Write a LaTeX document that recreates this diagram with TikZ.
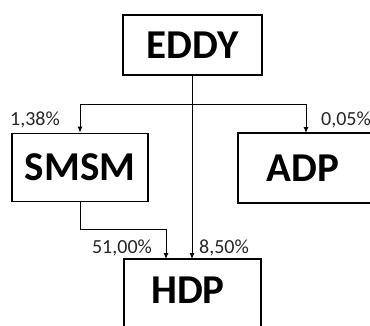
\documentclass[tikz,border=0pt]{standalone}
\usepackage{fontspec}
\setmainfont{Carlito}
\usetikzlibrary{arrows.meta}
\begin{document}
\begin{tikzpicture}[x=1pt,y=-1pt,
  box/.style={draw,line width=1.8pt,inner sep=0pt,font=\fontsize{41}{44}\selectfont\bfseries},
  bigtxt/.style={font=\fontsize{41}{44}\selectfont\bfseries,inner sep=0pt},
  conn/.style={line width=1pt,-{Latex[length=6pt,width=5pt]}},
  lbl/.style={font=\fontsize{20}{22}\selectfont,text=black!85,inner sep=0pt}]
\useasboundingbox (0,0) rectangle (370,325);
\clip (0,0) rectangle (370,325);
\node[box,minimum width=139pt,minimum height=60pt] (eddy) at (192.5,45) {EDDY};
\node[box,minimum width=136pt,minimum height=68pt] (smsm) at (80,167.5) {SMSM};
\node[box,minimum width=133pt,minimum height=70pt] (adp) at (304.5,168) {};
\node[bigtxt] (adptxt) at (303,168) {ADP};
\node[box,minimum width=137pt,minimum height=68pt] (hdp) at (192.5,293) {};
\node[bigtxt] (hdptxt) at (188,290) {HDP};
\coordinate (split) at (192,104);
\draw[line width=1pt] (eddy.south -| split) -- (split);
\draw[conn] (split) -| (smsm.north);
\draw[conn] (split) -| (306,133);
\draw[conn] (split) -- (192,259);
\draw[conn] (smsm.south) |- (166,229) -- (166,259);
\node[lbl] (l1) at (35,120) {1,38\%};
\node[lbl] (l2) at (346,120) {0,05\%};
\node[lbl] (l3) at (122,248) {51,00\%};
\node[lbl] (l4) at (224,248) {8,50\%};
\end{tikzpicture}
\end{document}
